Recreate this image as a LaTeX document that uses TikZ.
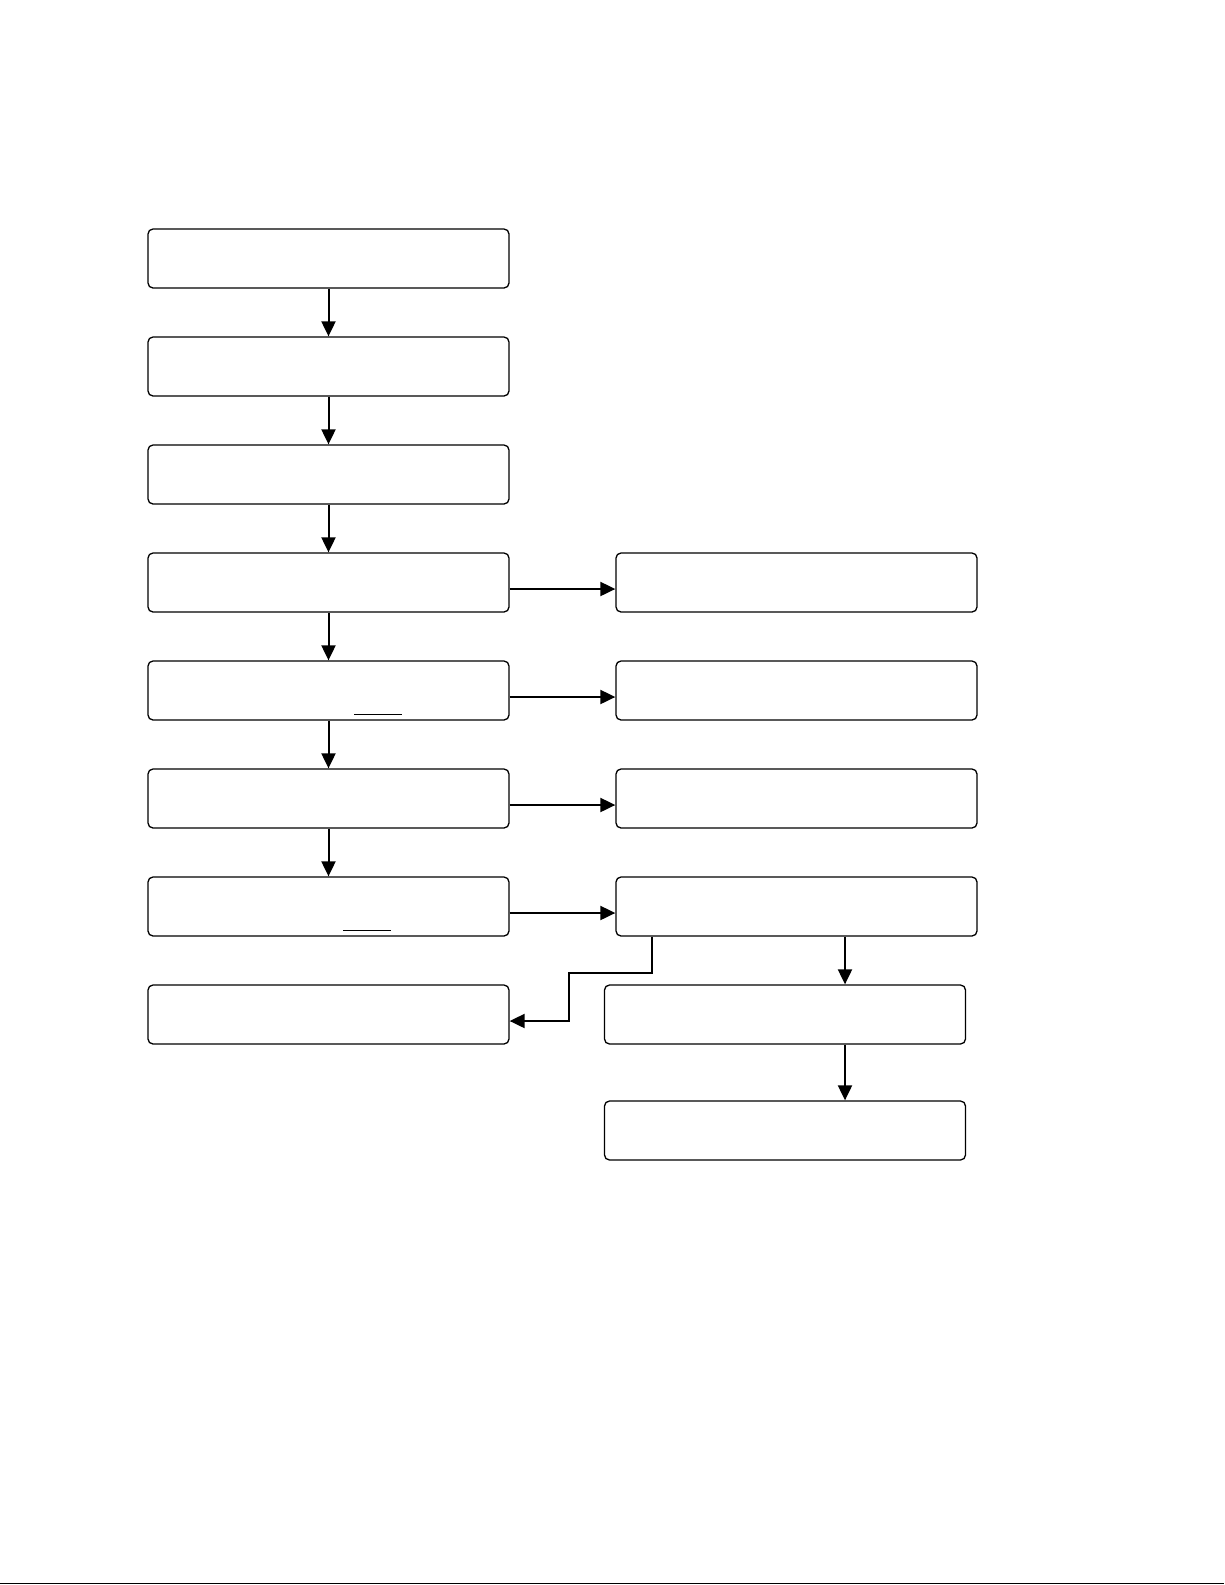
\documentclass[tikz,border=0pt]{standalone}
\usepackage{tikz}
\usetikzlibrary{arrows.meta}

\tikzset{
  stepbox/.style={draw,rounded corners=2.5pt,line width=0.65pt,minimum width=180.5pt,minimum height=29.5pt,inner sep=0pt},
  flow/.style={line width=1pt,-{Triangle[length=7.5pt,width=7pt]}}
}

\begin{document}
\begin{tikzpicture}[x=0.5pt,y=-0.5pt]
        \useasboundingbox (0,0) rectangle (1225,1585);
        % left column
        \node[stepbox] (l1) at (328.5,258.5) {};
        \node[stepbox] (l2) at (328.5,366.5) {};
        \node[stepbox] (l3) at (328.5,474.5) {};
        \node[stepbox] (l4) at (328.5,582.5) {};
        \node[stepbox] (l5) at (328.5,690.5) {};
        \node[stepbox] (l6) at (328.5,798.5) {};
        \node[stepbox] (l7) at (328.5,906.5) {};
        \node[stepbox] (l8) at (328.5,1014.5) {};
        % right column
        \node[stepbox] (r4) at (796.5,582.5) {};
        \node[stepbox] (r5) at (796.5,690.5) {};
        \node[stepbox] (r6) at (796.5,798.5) {};
        \node[stepbox] (r7) at (796.5,906.5) {};
        \node[stepbox] (b9) at (785,1014.5) {};
        \node[stepbox] (b10) at (785,1130.5) {};

        \foreach \a/\b in {l1/l2,l2/l3,l3/l4,l4/l5,l5/l6,l6/l7}
            \draw[flow] (\a.south) -- (\b.north);
        \foreach \a/\b in {l4/r4,l5/r5,l6/r6,l7/r7}
            \draw[flow] ([yshift=-3.25pt]\a.east) -- ([yshift=-3.25pt]\b.west);

        \draw[flow] ([xshift=24.25pt]r7.south) -- ([xshift=24.25pt]r7.south |- b9.north);
        \draw[flow] ([xshift=30pt]b9.south) -- ([xshift=30pt]b10.north);
        \coordinate (elb) at (569,973);
        \draw[flow] ([xshift=18.5pt]r7.south west) |- (elb) |- ([yshift=-3.25pt]l8.east);

        % blank underlines
        \draw[line width=0.5pt] (354,714) -- (402,714);
        \draw[line width=0.5pt] (343,930) -- (391,930);

        \draw[line width=0.65pt] (0,1583.5) -- (1224,1583.5);
    \end{tikzpicture}
\end{document}
